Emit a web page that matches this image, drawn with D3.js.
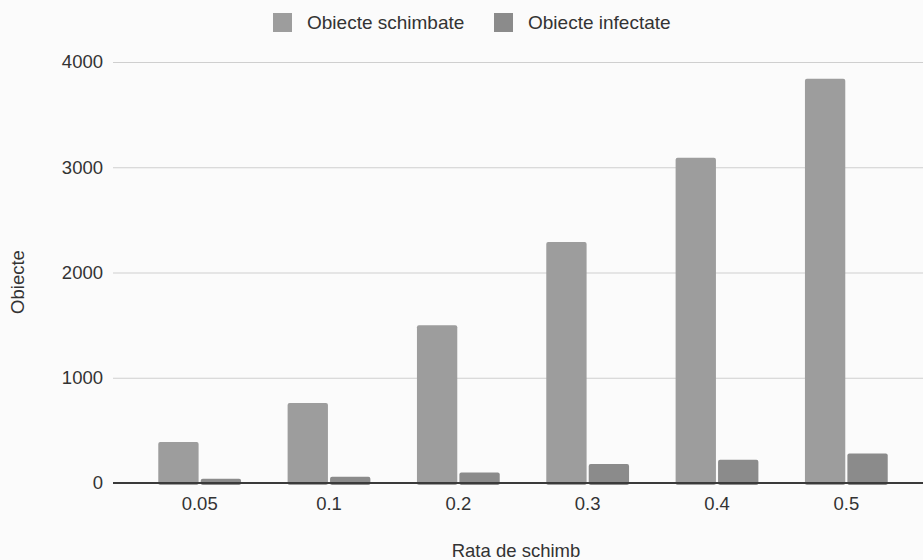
<!DOCTYPE html>
<html>
<head>
<meta charset="utf-8">
<script src="https://cdn.jsdelivr.net/npm/d3@7"></script>
<style>
  body { margin: 0; background: #fbfbfb; }
  text { font-family: "Liberation Sans", Arial, sans-serif; fill: #333; }
</style>
</head>
<body>
<div id="chart"></div>
<script>
(() => {
  // Data
  const categories = ['0.05', '0.1', '0.2', '0.3', '0.4', '0.5']
  const seriesNames = ['Obiecte schimbate', 'Obiecte infectate']
  const schimbate = [390, 760, 1500, 2290, 3090, 3840]
  const infectate = [40, 60, 100, 180, 220, 280]
  const yTicks = [0, 1000, 2000, 3000, 4000]
  const colors = ['#9d9d9d', '#8b8b8b']

  const width = 923
  const height = 560
  const plot = { left: 135, right: 911, top: 62, bottom: 483 }
  const fontSize = 18.5

  const svg = d3.select('#chart')
    .append('svg')
    .attr('width', width)
    .attr('height', height)

  svg.append('rect')
    .attr('width', width)
    .attr('height', height)
    .attr('fill', '#fbfbfb')

  // Scales
  const x = d3.scaleBand()
    .domain(categories)
    .range([plot.left, plot.right])
    .paddingInner(0.36)
    .paddingOuter(0.18)

  const x1 = d3.scaleBand()
    .domain(seriesNames)
    .range([0, x.bandwidth()])
    .paddingInner(0.05)

  const y = d3.scaleLinear()
    .domain([0, 4000])
    .range([plot.bottom, plot.top])

  // Y gridlines
  svg.append('g')
    .attr('transform', `translate(113, 0)`)
    .call(
      d3.axisLeft(y)
        .tickValues(yTicks.filter(d => d > 0))
        .tickSize(-(width - 113))
        .tickFormat('')
    )
    .call(g => g.select('.domain').remove())
    .call(g => g.selectAll('line').attr('stroke', '#cfcfcf'))

  // Y labels
  svg.append('g')
    .attr('transform', `translate(103, 0)`)
    .call(d3.axisLeft(y).tickValues(yTicks).tickSize(0).tickFormat(d3.format('d')))
    .call(g => g.select('.domain').remove())
    .call(g => g.selectAll('text')
      .attr('x', 0)
      .attr('font-size', fontSize)
      .style('font-family', '"Liberation Sans", Arial, sans-serif'))

  // Bars
  const rows = categories.map((c, i) => ({ cat: c, values: [schimbate[i], infectate[i]] }))

  svg.append('g')
    .selectAll('g')
    .data(rows)
    .join('g')
    .attr('transform', d => `translate(${x(d.cat)}, 0)`)
    .selectAll('rect')
    .data(d => d.values.map((v, j) => ({ key: seriesNames[j], value: v, j })))
    .join('rect')
    .attr('x', d => x1(d.key))
    .attr('y', d => y(d.value))
    .attr('width', x1.bandwidth())
    .attr('height', d => y(0) - y(d.value) + 2)
    .attr('rx', 2)
    .attr('fill', d => colors[d.j])

  // Baseline
  svg.append('line')
    .attr('x1', 113)
    .attr('x2', width)
    .attr('y1', y(0))
    .attr('y2', y(0))
    .attr('stroke', '#3a3a3a')
    .attr('stroke-width', 2)

  // X axis labels
  svg.append('g')
    .attr('transform', `translate(0, ${plot.bottom + 11})`)
    .call(d3.axisBottom(x).tickSize(0))
    .call(g => g.select('.domain').remove())
    .call(g => g.selectAll('text')
      .attr('font-size', fontSize)
      .style('font-family', '"Liberation Sans", Arial, sans-serif'))

  // Axis titles
  svg.append('text')
    .attr('x', 516)
    .attr('y', 557)
    .attr('text-anchor', 'middle')
    .attr('font-size', fontSize)
    .text('Rata de schimb')

  svg.append('text')
    .attr('transform', `translate(24, 282) rotate(-90)`)
    .attr('text-anchor', 'middle')
    .attr('font-size', fontSize)
    .text('Obiecte')

  // Legend
  const legendX = [273, 494]
  const legend = svg.append('g')
    .selectAll('g')
    .data(seriesNames)
    .join('g')
    .attr('transform', (d, i) => `translate(${legendX[i]}, 13)`)

  legend.append('rect')
    .attr('width', 19)
    .attr('height', 19)
    .attr('fill', (d, i) => colors[i])

  legend.append('text')
    .attr('x', 34)
    .attr('y', 16)
    .attr('font-size', 19)
    .text(d => d)
})()
</script>
</body>
</html>
